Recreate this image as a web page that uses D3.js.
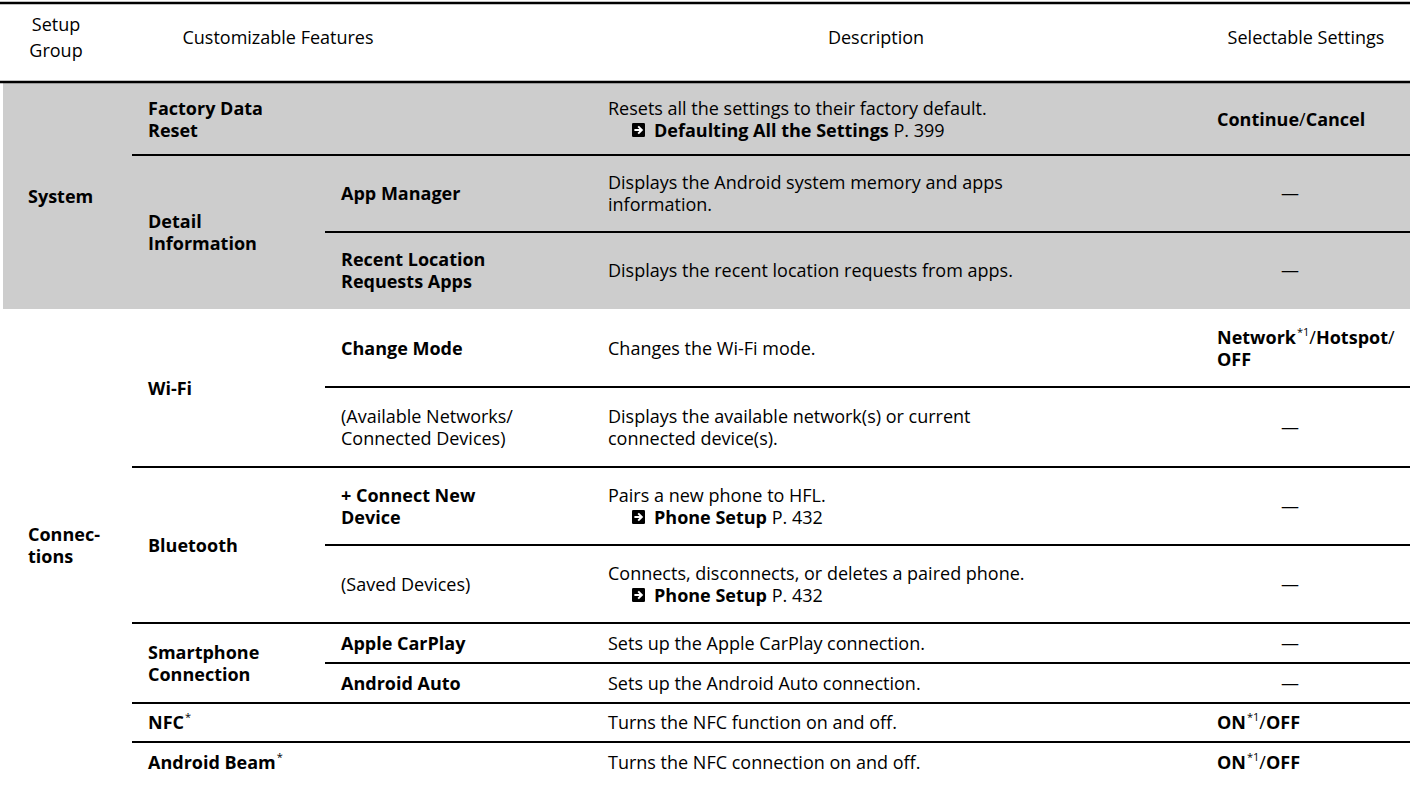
<!DOCTYPE html>
<html>
<head>
<meta charset="utf-8">
<script src="https://cdn.jsdelivr.net/npm/d3@7"></script>
<style>
  html, body { margin: 0; padding: 0; background: #fff; }
  svg { display: block; font-family: "Open Sans", "Noto Sans", sans-serif; }
</style>
</head>
<body>
<svg id="chart" width="1410" height="804"></svg>
<script>
// ---------------- DATA ----------------
const headerLabels = ["Setup\nGroup", "Customizable Features", "Description", "Selectable Settings"];

const setupGroups = ["System", "Connec-\ntions"];
const groupFirstRow = [0, 3];
const groupRowCount = [3, 8];

const features = ["Factory Data\nReset", "Detail\nInformation", "Wi-Fi", "Bluetooth", "Smartphone\nConnection", "NFC*", "Android Beam*"];
const featureFirstRow = [0, 1, 3, 5, 7, 9, 10];
const featureRowCount = [1, 2, 2, 2, 2, 1, 1];

const subFeatures = ["", "App Manager", "Recent Location\nRequests Apps", "Change Mode",
  "(Available Networks/\nConnected Devices)", "+ Connect New\nDevice", "(Saved Devices)",
  "Apple CarPlay", "Android Auto", "", ""];
const subFeatureBold = [true, true, true, true, false, true, false, true, true, true, true];

const descriptions = [
  "Resets all the settings to their factory default.",
  "Displays the Android system memory and apps\ninformation.",
  "Displays the recent location requests from apps.",
  "Changes the Wi-Fi mode.",
  "Displays the available network(s) or current\nconnected device(s).",
  "Pairs a new phone to HFL.",
  "Connects, disconnects, or deletes a paired phone.",
  "Sets up the Apple CarPlay connection.",
  "Sets up the Android Auto connection.",
  "Turns the NFC function on and off.",
  "Turns the NFC connection on and off."
];
const refTitles = ["Defaulting All the Settings", "", "", "", "", "Phone Setup", "Phone Setup", "", "", "", ""];
const refPages  = ["P. 399", "", "", "", "", "P. 432", "P. 432", "", "", "", ""];

const settings = ["Continue/Cancel", "—", "—", "Network*1/Hotspot/\nOFF", "—", "—", "—", "—", "—", "ON*1/OFF", "ON*1/OFF"];

// ---------------- LAYOUT ----------------
const W = 1410, H = 804;
const FS = 18, LH = 22;
const rowHeights = [72, 77, 77, 78, 80, 78, 78, 40, 40, 39, 40];
const tableTop = 83;
const headerTop = 3;
const colX = { group: 28, feature: 148, sub: 341, desc: 608, setting: 1217, dash: 1290 };
const refArrowDx = 24, refTextDx = 46;
const lineX = { feature: 132, sub: 325 };
const headerCenters = [56, 278, 876, 1306];
const shadeGroups = [true, false];

const svg = d3.select("#chart");
svg.append("rect").attr("width", W).attr("height", H).attr("fill", "#fff");

const nRows = rowHeights.length;
const bounds = [tableTop, ...d3.cumsum(rowHeights).map(v => v + tableTop)];
const y = d3.scaleOrdinal().domain(d3.range(nRows + 1)).range(bounds);
const spanMid = (first, count) => (y(first) + y(first + count)) / 2;

// shading
setupGroups.forEach((g, i) => {
  if (!shadeGroups[i]) return;
  svg.append("rect")
    .attr("x", 3).attr("y", y(groupFirstRow[i]))
    .attr("width", W - 3).attr("height", y(groupFirstRow[i] + groupRowCount[i]) - y(groupFirstRow[i]))
    .attr("fill", "#cdcdcd");
});

// rules
function hline(x1, yy, w) {
  svg.append("line").attr("x1", x1).attr("x2", W).attr("y1", yy).attr("y2", yy)
    .attr("stroke", "#000").attr("stroke-width", w || 2);
}
hline(0, headerTop, 2.5);
hline(0, tableTop - 1, 2.5);

for (let r = 1; r < nRows; r++) {
  if (groupFirstRow.includes(r)) continue;
  const startsFeature = featureFirstRow.includes(r);
  hline(startsFeature ? lineX.feature : lineX.sub, y(r), 2);
}

// rich text helper: bold words, regular slashes, superscripts
function richLine(sel, x, yy, str, bold, anchor) {
  const t = sel.append("text").attr("x", x).attr("y", yy)
    .attr("font-size", FS).attr("fill", "#000")
    .attr("text-anchor", anchor || "start");
  const parts = str.split(/(\*1|\*|\/)/).filter(s => s !== "");
  parts.forEach(p => {
    if (p === "*1" || p === "*") {
      t.append("tspan").attr("font-size", 11).attr("font-weight", 400)
        .attr("baseline-shift", "70%").attr("dx", 1).text(p);
    } else if (p === "/") {
      t.append("tspan").attr("font-weight", 400).text("/");
    } else {
      t.append("tspan").attr("font-weight", bold ? 700 : 400).text(p);
    }
  });
  return t;
}
function block(x, cy, str, bold, anchor) {
  const lines = str.split("\n");
  const top = cy - (lines.length - 1) * LH / 2;
  lines.forEach((ln, i) => richLine(svg, x, top + i * LH + 6.5, ln, bold, anchor));
}

// header
headerLabels.forEach((h, i) => {
  const lines = h.split("\n");
  const cy = 37;
  const lh = 26;
  const top = cy - (lines.length - 1) * lh / 2;
  lines.forEach((ln, j) => {
    svg.append("text").attr("x", headerCenters[i]).attr("y", top + j * lh + 6.5)
      .attr("text-anchor", "middle").attr("font-size", FS).attr("fill", "#000").text(ln);
  });
});

// groups
setupGroups.forEach((g, i) => {
  block(colX.group, spanMid(groupFirstRow[i], groupRowCount[i]), g, true);
});

// features
features.forEach((f, i) => {
  block(colX.feature, spanMid(featureFirstRow[i], featureRowCount[i]), f, true);
});

// sub features
subFeatures.forEach((s, r) => {
  if (!s) return;
  block(colX.sub, spanMid(r, 1), s, subFeatureBold[r]);
});

// descriptions with references
descriptions.forEach((d, r) => {
  const lines = d.split("\n");
  const hasRef = refTitles[r] !== "";
  const total = lines.length + (hasRef ? 1 : 0);
  const cy = spanMid(r, 1);
  const top = cy - (total - 1) * LH / 2;
  lines.forEach((ln, i) => {
    svg.append("text").attr("x", colX.desc).attr("y", top + i * LH + 6.5)
      .attr("font-size", FS).attr("fill", "#000").text(ln);
  });
  if (hasRef) {
    const by = top + lines.length * LH;
    const g = svg.append("g").attr("transform", `translate(${colX.desc + refArrowDx},${by - 7})`);
    g.append("rect").attr("width", 13).attr("height", 14).attr("rx", 1.2).attr("fill", "#000");
    g.append("path").attr("d", "M2.4,7 H9.4 M6.2,3.4 L9.8,7 L6.2,10.6")
      .attr("fill", "none").attr("stroke", "#fff").attr("stroke-width", 2)
      .attr("stroke-linejoin", "miter");
    const t = svg.append("text").attr("x", colX.desc + refTextDx).attr("y", by + 6.5)
      .attr("font-size", FS).attr("fill", "#000");
    t.append("tspan").attr("font-weight", 700).text(refTitles[r]);
    t.append("tspan").attr("font-weight", 400).text(" " + refPages[r]);
  }
});

// settings
settings.forEach((s, r) => {
  const cy = spanMid(r, 1);
  if (s === "—") {
    block(colX.dash, cy, s, false, "middle");
  } else {
    block(colX.setting, cy, s, true);
  }
});
</script>
</body>
</html>
